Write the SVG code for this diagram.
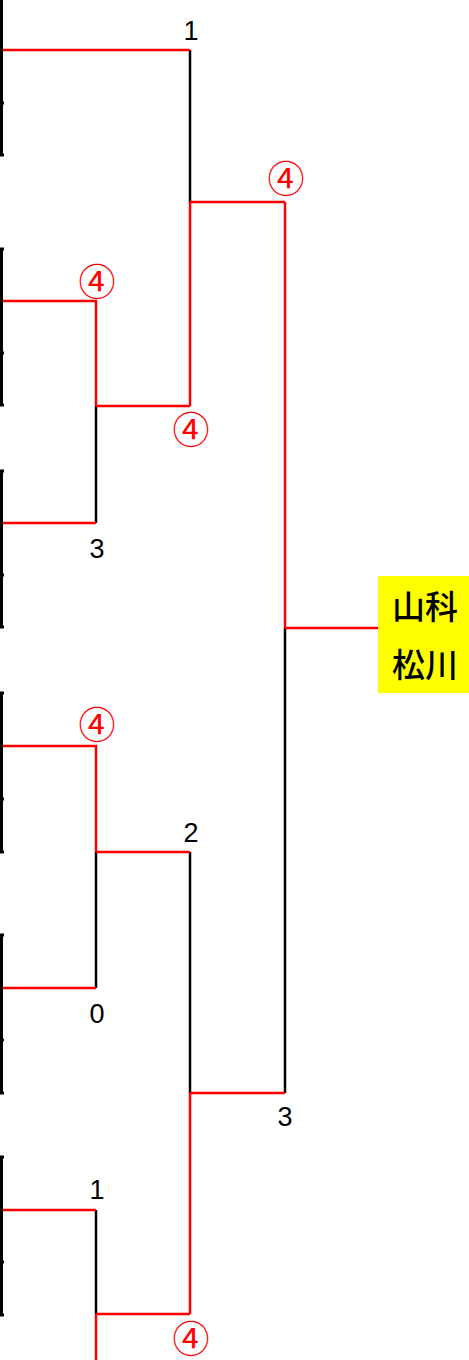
<svg xmlns="http://www.w3.org/2000/svg" width="469" height="1360" viewBox="0 0 469 1360">
<style>
.r{fill:none;stroke:#ff0000;stroke-width:2.5}
.k{fill:none;stroke:#000000;stroke-width:2.5}
.e{fill:none;stroke:#000000;stroke-width:3}
.s{font-family:"Liberation Sans",Arial,sans-serif;font-size:27px;fill:#000;text-anchor:middle}
.w{font-family:"Noto Sans CJK JP",sans-serif;font-size:37px;fill:#ff0000;text-anchor:middle}
.n{font-family:"Noto Sans CJK JP",sans-serif;font-size:33px;font-weight:500;fill:#000;text-anchor:middle}
</style>
<rect width="469" height="1360" fill="#ffffff"/>
<g id="teams">
<g id="team1"><path class="e" d="M1.5,-2V155M0,103H4M0,155H4"/></g>
<g id="team2"><path class="e" d="M1.5,249V405M0,249H4M0,353H4M0,405H4"/></g>
<g id="team3"><path class="e" d="M1.5,471V627M0,471H4M0,575H4M0,627H4"/></g>
<g id="team4"><path class="e" d="M1.5,693V852M0,693H4M0,799H4M0,852H4"/></g>
<g id="team5"><path class="e" d="M1.5,935V1093M0,935H4M0,1040H4M0,1093H4"/></g>
<g id="team6"><path class="e" d="M1.5,1157V1315M0,1157H4M0,1262H4M0,1315H4"/></g>
</g>
<g id="connectors">
<path class="k" d="M190,50V202M96,406V523M285,628V1093M96,852V988M190,852V1093M96,1210V1314"/>
<path class="r" d="M3,50H190M190,202V406M190,202H285M3,301H96V406M96,406H190M3,523H96M285,202V628M285,628H378M3,746H96V852M96,852H190M3,988H96M190,1093H285M190,1093V1314M3,1210H96M96,1314H190M96,1314V1360"/>
</g>
<g id="labels">
<text class="s" x="191" y="40">1</text>
<text class="w" x="286" y="193">④</text>
<text class="w" x="97" y="296">④</text>
<text class="w" x="191" y="444">④</text>
<text class="s" x="97" y="558">3</text>
<text class="w" x="97" y="739">④</text>
<text class="s" x="191" y="842">2</text>
<text class="s" x="97" y="1023">0</text>
<text class="s" x="285" y="1126">3</text>
<text class="s" x="97" y="1199">1</text>
<text class="w" x="191" y="1353">④</text>
</g>
<g id="winner">
<rect x="378" y="576" width="91" height="117" fill="#ffff00"/>
<text class="n" x="425" y="619">山科</text>
<text class="n" x="425" y="677">松川</text>
</g>
</svg>
